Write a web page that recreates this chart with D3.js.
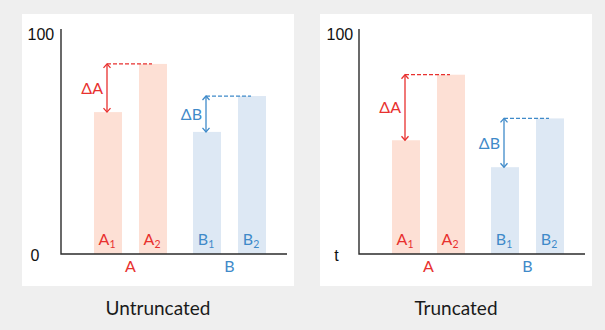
<!DOCTYPE html>
<html><head><meta charset="utf-8">
<script src="https://cdn.jsdelivr.net/npm/d3@7"></script>
<style>
html,body{margin:0;padding:0;background:#efefef;}
svg{display:block;}
</style></head>
<body>
<svg id="chart" width="605" height="330"></svg>
<script>
// ---- data ----
const categories = ["A", "B"];
const subgroups = ["1", "2"];
const valuesA = [64.5, 86.4];
const valuesB = [55.5, 71.8];
const panelTitles = ["Untruncated", "Truncated"];
const baselineValues = [0, 26.5];       // t (hidden truncation point)
const baselineLabels = ["0", "t"];
const topValue = 100;
const topLabel = "100";

const colors = {
  A: {text: "#e8312f", fill: "#fde0d5"},
  B: {text: "#3f8ac9", fill: "#dde8f4"}
};
const seriesByCat = {A: valuesA, B: valuesB};

const svg = d3.select("#chart");
svg.append("rect").attr("width", 605).attr("height", 330).attr("fill", "#efefef");

const panelX = [22, 320];
const panelY = 14, panelW = 272, panelH = 272;
const fontMain = "Lato, 'Open Sans', sans-serif";
const fontTick = "'Liberation Sans', Arial, sans-serif";

panelX.forEach((px, pi) => {
  const g = svg.append("g").attr("transform", `translate(${px},${panelY})`);
  g.append("rect").attr("width", panelW).attr("height", panelH).attr("fill", "#fff");

  const axisX = 39, axisY = 240, axisTop = 15, axisRight = 265;

  const y = d3.scaleLinear().domain([baselineValues[pi], topValue]).range([axisY, 20]);
  const x0 = d3.scaleBand().domain(categories).range([59, 257]).padding(0);
  const x1 = d3.scaleBand().domain(subgroups).range([0, x0.bandwidth()])
    .paddingInner(0.378).paddingOuter(0.289);

  // bars
  categories.forEach(cat => {
    const vals = seriesByCat[cat];
    const cg = g.append("g");
    cg.selectAll("rect").data(vals).join("rect")
      .attr("x", (d, i) => x0(cat) + x1(subgroups[i]))
      .attr("y", d => y(d))
      .attr("width", x1.bandwidth())
      .attr("height", d => axisY - y(d))
      .attr("fill", colors[cat].fill);

    // bar labels with subscripts
    cg.selectAll("text.bl").data(vals).join("text")
      .attr("class", "bl")
      .attr("x", (d, i) => x0(cat) + x1(subgroups[i]) + x1.bandwidth() / 2 - 1)
      .attr("y", axisY - 9)
      .attr("text-anchor", "middle")
      .attr("font-family", fontMain)
      .attr("font-size", 16)
      .attr("fill", colors[cat].text)
      .each(function (d, i) {
        const t = d3.select(this);
        t.append("tspan").text(cat);
        t.append("tspan").attr("font-size", 10.5).attr("dy", 3).text(subgroups[i]);
      });

    // category label
    g.append("text")
      .attr("x", x0(cat) + x0.bandwidth() / 2)
      .attr("y", axisY + 17.5)
      .attr("text-anchor", "middle")
      .attr("font-family", fontMain)
      .attr("font-size", 16)
      .attr("fill", colors[cat].text)
      .text(cat);

    // delta annotation
    const xa = x0(cat) + x1(subgroups[0]) + x1.bandwidth() / 2 - 1;
    const xb = x0(cat) + x1(subgroups[1]) + x1.bandwidth() / 2 - 1;
    const yTop = y(vals[1]), yBot = y(vals[0]);
    const col = colors[cat].text;
    g.append("line").attr("x1", xa).attr("x2", xb).attr("y1", yTop).attr("y2", yTop)
      .attr("stroke", col).attr("stroke-width", 1.3).attr("stroke-dasharray", "4,2");
    g.append("line").attr("x1", xa).attr("x2", xa).attr("y1", yTop).attr("y2", yBot)
      .attr("stroke", col).attr("stroke-width", 1.3);
    const ah = 4, aw = 3.5;
    g.append("path")
      .attr("d", `M${xa - aw},${yTop + ah}L${xa},${yTop}L${xa + aw},${yTop + ah}` +
                 `M${xa - aw},${yBot - ah}L${xa},${yBot}L${xa + aw},${yBot - ah}`)
      .attr("fill", "none").attr("stroke", col).attr("stroke-width", 1.3);
    g.append("text")
      .attr("x", xa - 4)
      .attr("y", (yTop + yBot) / 2 + 6)
      .attr("text-anchor", "end")
      .attr("font-family", fontMain)
      .attr("font-size", 16)
      .attr("fill", col)
      .text("\u0394" + cat);
  });

  // axes
  g.append("path")
    .attr("d", `M${axisX},${axisTop}V${axisY}H${axisRight}`)
    .attr("fill", "none").attr("stroke", "#2b2b2b").attr("stroke-width", 1.4);

  g.append("text")
    .attr("x", pi === 0 ? 5.5 : 6.5).attr("y", y(topValue) + 6)
    .attr("font-family", fontTick).attr("font-size", 16).attr("fill", "#111")
    .text(topLabel);
  g.append("text")
    .attr("x", pi === 0 ? 13 : 16.5).attr("y", y(baselineValues[pi]) + 6.5)
    .attr("text-anchor", "middle")
    .attr("font-family", fontTick).attr("font-size", 16).attr("fill", "#111")
    .text(baselineLabels[pi]);

  // title
  svg.append("text")
    .attr("x", px + panelW / 2)
    .attr("y", 315)
    .attr("text-anchor", "middle")
    .attr("font-family", fontMain)
    .attr("font-size", 19)
    .attr("fill", "#1a1a1a")
    .text(panelTitles[pi]);
});
</script>
</body></html>
